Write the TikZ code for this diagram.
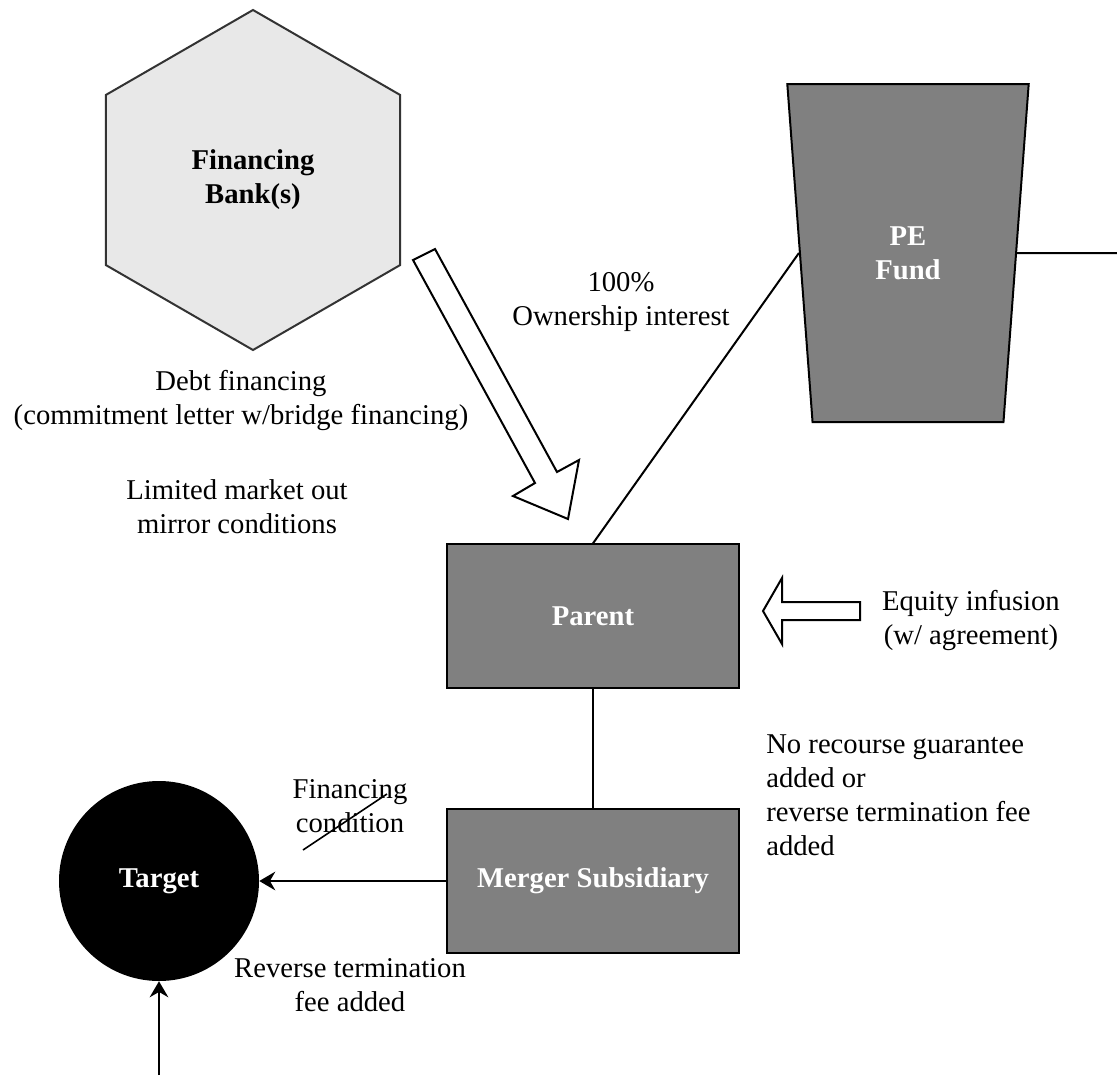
\documentclass[tikz,border=0pt]{standalone}
\usepackage{fontspec}
\setmainfont{Liberation Serif}
\usetikzlibrary{shapes.geometric,arrows.meta,calc}

\begin{document}
\begin{tikzpicture}[x=0.75pt,y=-0.75pt,
  txt/.style={font=\fontsize{21.5}{25.5}\selectfont},
  lbl/.style={txt, align=center, inner sep=0pt},
  lblleft/.style={txt, align=left, inner sep=0pt},
  boxtext/.style={font=\bfseries\fontsize{21.5}{25.5}\selectfont, align=center},
  darkbox/.style={rectangle, draw=black, fill=black!50, line width=1.5pt,
    text=white, boxtext, minimum width=219pt, minimum height=107.5pt},
  bankshape/.style={regular polygon, regular polygon sides=6,
    regular polygon rotate=30, minimum size=255pt, inner sep=0pt,
    draw=black!80, fill=black!9, line width=1.5pt, boxtext},
  fundshape/.style={trapezium, trapezium left angle=80.76,
    trapezium right angle=80.76, shape border rotate=180,
    trapezium stretches=true, minimum width=181.5pt, minimum height=253.5pt,
    inner sep=0pt, draw=black, fill=black!50, line width=1.5pt,
    text=white, boxtext},
  targetshape/.style={circle, minimum size=150pt, inner sep=0pt,
    fill=black, text=white, boxtext},
  conn/.style={line width=1.5pt},
  tipped/.style={conn, -{Stealth[length=12pt,width=14pt,inset=4pt]}},
  blockarrow/.style={draw=black, fill=white, line width=1.5pt, line join=miter}]

\useasboundingbox (0,0) rectangle (1117,1075);

% main entities
\node[bankshape]   (bank)   at (253,180) {Financing\\Bank(s)};
\node[fundshape]   (fund)   at (908,253) {PE\\Fund};
\node[darkbox]     (parent) at (593,616) {Parent};
\node[darkbox]     (merger) at (593,881) {Merger Subsidiary};
\node[targetshape] (target) at (159,881) {Target};

% free ends of the open connectors
\coordinate (fundout) at (1117,253);
\coordinate (tgtin)   at (159,1075);

% connectors
\draw[conn] (parent.north) -- (fund.west);
\draw[conn] (fund.east) -- (fundout);
\draw[conn] (parent.south) -- (merger.north);
\draw[tipped] (merger.west) -- (target.east);
\draw[tipped] (tgtin) -- (target.south);

% debt financing block arrow
\draw[blockarrow] (413,260) -- (435,249) -- (557,472) -- (579,460)
  -- (568,519) -- (513,496) -- (535,483) -- cycle;

% equity infusion block arrow
\draw[blockarrow] (763,611) -- (782,578) -- (782,602) -- (860,602)
  -- (860,620) -- (782,620) -- (782,644) -- cycle;

% labels
\node[lbl] (debt)    at (241,400)   {Debt financing\\(commitment letter w/bridge financing)};
\node[lbl] (mkt)     at (237,506.5) {Limited market out\\mirror conditions};
\node[lbl] (own)     at (621,302.5) {100\%\\Ownership interest};
\node[lbl] (equity)  at (971,620.5) {Equity infusion\\(w/ agreement)};
\node[lblleft, anchor=west] (recourse) at (766,795.5)
  {No recourse guarantee\\added or\\reverse termination fee\\added};
\node[lbl] (fincond) at (350,806)   {Financing\\condition};
\node[lbl] (revfee)  at (350,985.5) {Reverse termination\\fee added};

% the financing condition is struck out
\draw[line width=1.2pt] ($(fincond.center)+(-47,44)$) -- ($(fincond.center)+(37,-12)$);

\end{tikzpicture}
\end{document}
